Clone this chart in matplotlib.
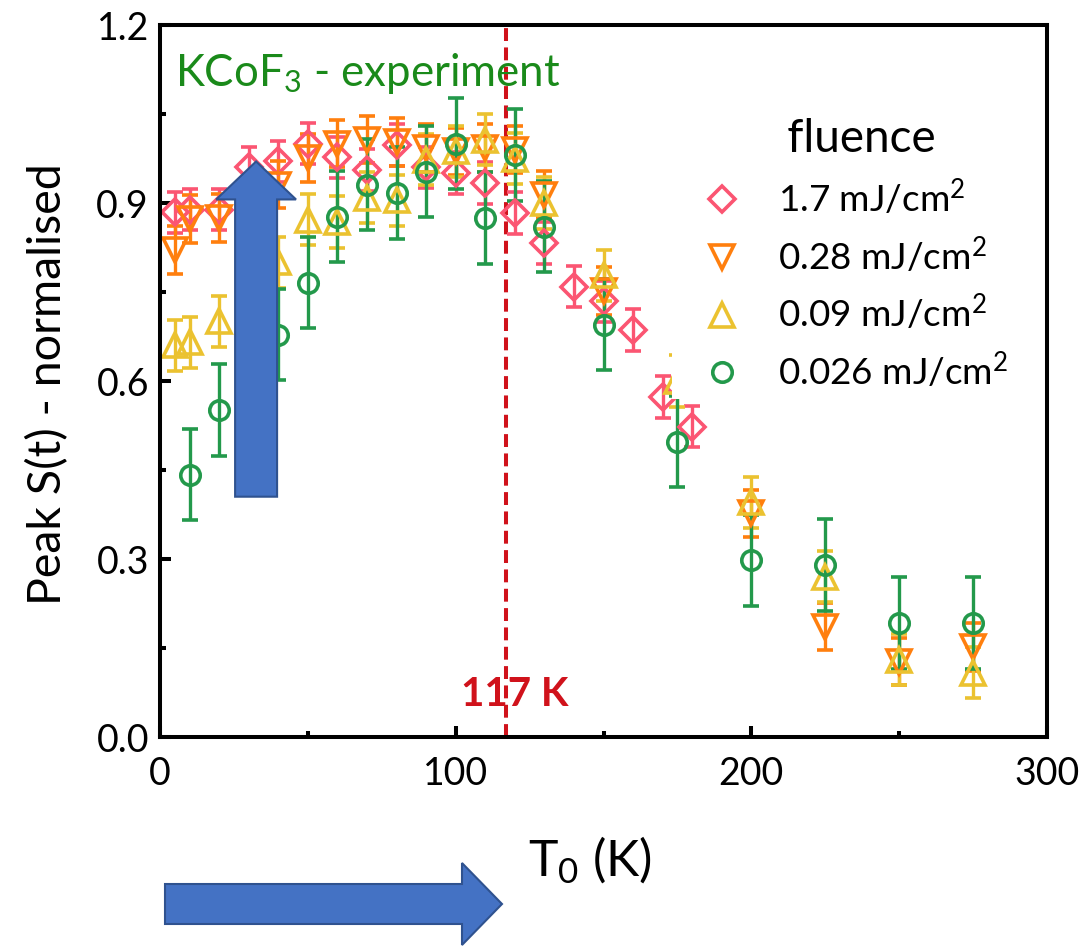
import matplotlib
matplotlib.use("Agg")
import matplotlib.pyplot as plt
from matplotlib.patches import FancyArrow
from matplotlib.lines import Line2D
from matplotlib.ticker import MultipleLocator

plt.rcParams['font.family'] = ['Lato', 'DejaVu Sans']
plt.rcParams['mathtext.fontset'] = 'custom'
plt.rcParams['mathtext.rm'] = 'Lato'
plt.rcParams['mathtext.it'] = 'Lato:italic'
plt.rcParams['mathtext.bf'] = 'Lato:bold'

# ---- data ----
labels = ["1.7 mJ/cm$^2$", "0.28 mJ/cm$^2$", "0.09 mJ/cm$^2$", "0.026 mJ/cm$^2$"]

T_17 = [5, 10, 20, 30, 40, 50, 60, 70, 80, 90, 100, 110, 120, 130, 140, 150, 160, 170, 180]
S_17 = [0.884, 0.889, 0.889, 0.960, 0.970, 1.000, 0.977, 0.956, 0.998, 0.960, 0.951, 0.934, 0.883, 0.833, 0.759, 0.734, 0.686, 0.573, 0.523]
E_17 = [0.035] * len(T_17)

T_028 = [5, 10, 20, 40, 50, 60, 70, 80, 90, 100, 110, 120, 130, 150, 200, 225, 250, 275]
S_028 = [0.821, 0.873, 0.875, 0.931, 0.976, 1.000, 1.007, 1.003, 0.993, 0.987, 0.993, 0.990, 0.914, 0.752, 0.377, 0.186, 0.127, 0.152]
E_028 = [0.040] * len(T_028)

T_009 = [5, 10, 20, 40, 50, 60, 70, 80, 90, 100, 110, 120, 130, 150, 175, 200, 225, 250, 275]
S_009 = [0.660, 0.665, 0.701, 0.800, 0.872, 0.868, 0.909, 0.905, 0.973, 0.987, 1.007, 0.975, 0.900, 0.778, 0.600, 0.396, 0.270, 0.130, 0.108]
E_009 = [0.043] * len(T_009)

T_0026 = [10, 20, 40, 50, 60, 70, 80, 90, 100, 110, 120, 130, 150, 175, 200, 225, 250, 275]
S_0026 = [0.442, 0.551, 0.678, 0.766, 0.877, 0.931, 0.917, 0.953, 1.000, 0.875, 0.981, 0.860, 0.695, 0.498, 0.298, 0.290, 0.192, 0.192]
E_0026 = [0.077] * len(T_0026)

T_N = 117
xticks = [0, 100, 200, 300]
yticks = [0.0, 0.3, 0.6, 0.9, 1.2]

colors = ['#FB5572', '#FF7F0E', '#EBC230', '#23994B']
markers = ['D', 'v', '^', 'o']
msizes = [13, 17, 17, 14]

fig = plt.figure(figsize=(10.84, 9.46), dpi=100)
ax = fig.add_axes([160/1084, 1-737/946, (1047-160)/1084, (737-25)/946])

series = [(T_17, S_17, E_17), (T_028, S_028, E_028), (T_009, S_009, E_009), (T_0026, S_0026, E_0026)]
for (t, s, e), c, m, ms in zip(series, colors, markers, msizes):
    ax.errorbar(t, s, yerr=e, fmt=m, ms=ms, mfc='none', mec=c, mew=2.6,
                ecolor=c, elinewidth=2.4, capsize=6, capthick=2.4, zorder=2)

ax.axvline(T_N, color='#D0121B', lw=2.9, dashes=(3.2, 1.6), zorder=1.5)
ax.text(T_N + 3, 0.071, f"{T_N} K", color='#D0121B', fontsize=29, fontweight='bold',
        ha='center', va='center')
ax.text(5, 1.118, "KCoF$_3$ - experiment", color='#1A8A1A', fontsize=31.5,
        ha='left', va='center')

# vertical arrow in the axes
ax.add_patch(FancyArrow(32.5, 0.405, 0, 0.565, width=14.2, head_width=27,
                        head_length=0.064, length_includes_head=True,
                        fc='#4472C4', ec='#2F528F', lw=1.5, zorder=4))
# horizontal arrow below
fig.add_artist(FancyArrow(165/1084, 1-904/946, (502-165)/1084, 0, width=40/946,
                          head_width=82/946, head_length=40/1084,
                          length_includes_head=True, fc='#4472C4', ec='#2F528F',
                          lw=1.5, transform=fig.transFigure, zorder=4))

ax.set_xlim(0, 300)
ax.set_ylim(0, 1.2)
ax.set_xticks(xticks)
ax.set_yticks(yticks)
ax.set_yticklabels([f"{v:.1f}" for v in yticks])
ax.xaxis.set_minor_locator(MultipleLocator(50))
ax.yaxis.set_minor_locator(MultipleLocator(0.15))
ax.tick_params(which='both', direction='in', width=2.9, labelsize=27, top=False, right=False)
ax.tick_params(which='major', length=8)
ax.tick_params(axis='x', which='major', pad=14)
ax.tick_params(axis='y', which='major', pad=8)
ax.tick_params(which='minor', length=4.5)
for sp in ax.spines.values():
    sp.set_linewidth(2.9)

ax.set_ylabel("Peak S(t) - normalised", fontsize=33.5, va='center')
ax.yaxis.set_label_coords((48 - 160) / 887, (737 - 384) / 712)
ax.set_xlabel("T$_0$ (K)", fontsize=36, va='center')
ax.xaxis.set_label_coords((590 - 160) / 887, -(860 - 737) / 712)

handles = [Line2D([], [], ls='none', marker=m, ms=ms, mfc='none', mec=c, mew=2.6)
           for m, c, ms in zip(markers, colors, msizes)]
leg = ax.legend(handles, labels, title="   fluence", loc='upper left',
                bbox_to_anchor=((672 - 160) / 887, (737 - 111) / 712), borderaxespad=0,
                fontsize=26.6, title_fontsize=33, frameon=True, facecolor='white',
                edgecolor='none', framealpha=1, fancybox=False, handletextpad=0.365,
                labelspacing=0.45, borderpad=0.2, handlelength=2.31)
leg.set_zorder(5)

fig.savefig("out.png", dpi=100)
